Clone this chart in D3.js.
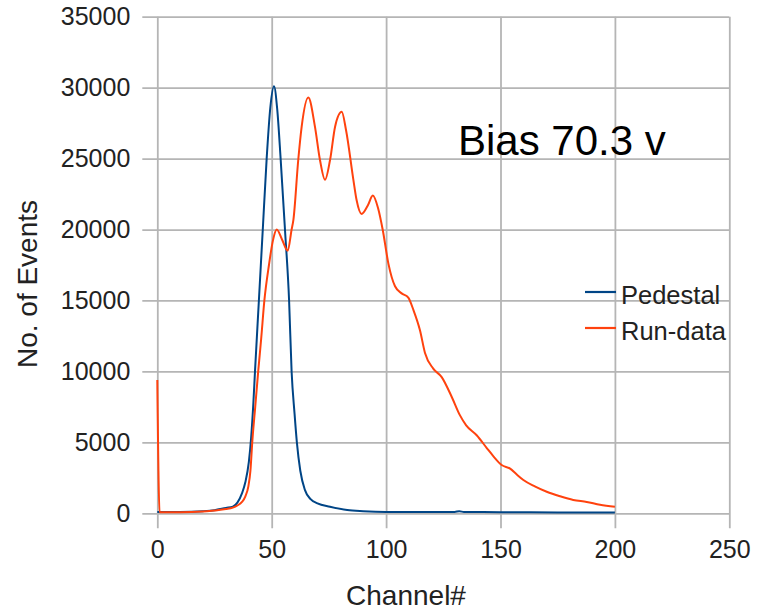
<!DOCTYPE html>
<html>
<head>
<meta charset="utf-8">
<script src="https://cdn.jsdelivr.net/npm/d3@7"></script>
<style>
  html, body { margin: 0; padding: 0; background: #fff; }
  svg { display: block; }
  text { font-family: "Liberation Sans", Arial, sans-serif; }
</style>
</head>
<body>
<svg id="chart" width="757" height="613"></svg>
<script>
// ---- Data ----
const xTicks = [0, 50, 100, 150, 200, 250];
const yTicks = [0, 5000, 10000, 15000, 20000, 25000, 30000, 35000];
const seriesNames = ["Pedestal", "Run-data"];

const pedestalChannel = [0, 10, 20, 25, 30, 33, 35, 37, 38.5, 40, 41, 42, 42.7, 44.4, 46.1, 47.8, 49.4, 51, 52.4, 53.9, 55.8, 57.6, 58.7, 60, 61, 62.5, 64.5, 67, 70, 75.5, 83, 90, 100, 130, 132, 134, 150, 175, 200];
const pedestalEvents  = [100, 100, 150, 220, 380, 470, 750, 1400, 2200, 3600, 5300, 7800, 10000, 15000, 20000, 25000, 28600, 30100, 28500, 25000, 20000, 15000, 10000, 7000, 5000, 3000, 1650, 1000, 700, 465, 230, 150, 100, 100, 150, 90, 80, 60, 50];

const runChannel = [0, 1, 10, 20, 25, 30, 33, 35, 37, 38.5, 39.8, 40.7, 41.5, 42.8, 44.1, 45.4, 46.8, 48.8, 50.5, 52.2, 54.5, 57, 58.7, 59.5, 61.6, 63.1, 66, 68.9, 71.1, 73.3, 75.5, 77.7, 80.6, 82.5, 85.7, 87.1, 89.3, 92, 94.2, 96.5, 98.5, 101, 103.9, 106.8, 109.7, 112, 114.8, 117, 120.6, 124.3, 128.7, 132.3, 135, 139.6, 144, 147, 150.5, 154.2, 157, 160, 165, 170.2, 176, 181.8, 187.7, 193.5, 200];
const runEvents  = [9400, 80, 80, 120, 200, 300, 400, 550, 800, 1200, 1900, 3000, 5000, 7500, 10000, 12300, 15000, 17500, 19200, 20000, 19300, 18500, 20000, 20700, 24900, 27250, 29300, 27250, 24900, 23500, 24900, 27250, 28300, 27000, 23500, 22080, 21100, 21700, 22400, 21500, 20000, 17600, 16000, 15500, 15200, 14300, 12900, 11300, 10200, 9600, 8200, 6900, 6200, 5500, 4600, 4000, 3400, 3150, 2750, 2350, 1900, 1520, 1200, 940, 800, 600, 465];

const seriesColors = ["#004586", "#ff420e"];

// ---- Layout ----
const svg = d3.select("#chart");
const plotLeft = 157.3, plotRight = 729.3, plotTop = 16.7, plotBottom = 513.3;
const tickOut = 15;

const x = d3.scaleLinear().domain([0, 250]).range([plotLeft, plotRight]);
const y = d3.scaleLinear().domain([0, 35000]).range([plotBottom, plotTop]);

const gridColor = "#b5b5b5";

// Y axis with gridlines
const yAxis = svg.append("g")
  .attr("transform", `translate(${plotLeft - tickOut},0)`)
  .call(d3.axisLeft(y).tickValues(yTicks).tickFormat(d3.format("d"))
    .tickSize(-(plotRight - plotLeft + tickOut)).tickPadding(12));
yAxis.select(".domain").remove();
yAxis.selectAll("line").attr("stroke", gridColor).attr("stroke-width", 1.8);
yAxis.selectAll("text").attr("font-size", 25).attr("fill", "#222")
  .attr("font-family", "Liberation Sans, Arial, sans-serif");

// X axis with gridlines
const xAxis = svg.append("g")
  .attr("transform", `translate(0,${plotBottom + tickOut})`)
  .call(d3.axisBottom(x).tickValues(xTicks).tickFormat(d3.format("d"))
    .tickSize(-(plotBottom - plotTop + tickOut)).tickPadding(12));
xAxis.select(".domain").remove();
xAxis.selectAll("line").attr("stroke", gridColor).attr("stroke-width", 1.8);
xAxis.selectAll("text").attr("font-size", 25).attr("fill", "#222")
  .attr("font-family", "Liberation Sans, Arial, sans-serif");

// Series
const line = d3.line()
  .x(d => x(d[0]))
  .y(d => y(d[1]))
  .curve(d3.curveMonotoneX);

const pedestal = pedestalChannel.map((c, i) => [c, pedestalEvents[i]]);
const run = runChannel.map((c, i) => [c, runEvents[i]]);

svg.append("path").datum(pedestal)
  .attr("d", line).attr("fill", "none")
  .attr("stroke", seriesColors[0]).attr("stroke-width", 2)
  .attr("stroke-linejoin", "round");
svg.append("path").datum(run)
  .attr("d", line).attr("fill", "none")
  .attr("stroke", seriesColors[1]).attr("stroke-width", 2)
  .attr("stroke-linejoin", "round");

// Axis titles
svg.append("text")
  .attr("x", 406).attr("y", 605)
  .attr("text-anchor", "middle")
  .attr("font-size", 28).attr("fill", "#222")
  .text("Channel#");

svg.append("text")
  .attr("transform", "translate(37,284) rotate(-90)")
  .attr("text-anchor", "middle")
  .attr("font-size", 28).attr("fill", "#222")
  .text("No. of Events");

// Annotation
svg.append("text")
  .attr("x", 458).attr("y", 155)
  .attr("font-size", 42).attr("fill", "#000")
  .text("Bias 70.3 v");

// Legend
const legendY = [292, 328];
const legend = svg.append("g");
seriesNames.forEach((name, i) => {
  legend.append("line")
    .attr("x1", 585).attr("x2", 616)
    .attr("y1", legendY[i]).attr("y2", legendY[i])
    .attr("stroke", seriesColors[i]).attr("stroke-width", 2.2);
  legend.append("text")
    .attr("x", 621).attr("y", legendY[i] + 11.5)
    .attr("font-size", 25.5).attr("fill", "#222")
    .text(name);
});
</script>
</body>
</html>
